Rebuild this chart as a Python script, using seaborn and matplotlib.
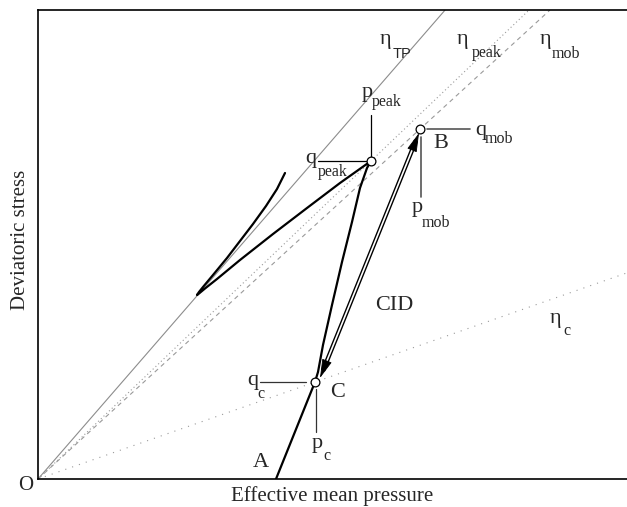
import matplotlib
matplotlib.use("Agg")
import matplotlib.pyplot as plt
import seaborn as sns

sns.set_style("white")
plt.rcParams["font.family"] = ["Liberation Serif", "DejaVu Serif"]

# Frame extent in (p, q) units
P_MAX, Q_MAX = 589, 469

# Stress-ratio lines through the origin (slope q/p)
ratio_names = ["TP", "peak", "mob", "c"]
ratio_slopes = [1.152, 0.955, 0.916, 0.350]
ratio_styles = ["-", (0, (1, 2.4)), (0, (4, 3.5)), (0, (1, 5.5))]
ratio_colors = ["#8c8c8c", "#9a9a9a", "#9a9a9a", "#9a9a9a"]

# Characteristic states (p, q)
peak_state = (333, 318)
mob_state = (382, 350)
c_state = (277, 97)

# Stress path: A -> C -> peak, down to the loop tip and back up
path_p = [238, 277, 280, 285, 294, 304, 314, 322, 329, 333,
          302, 269, 235, 202, 179, 167, 161, 159,
          161, 165, 175, 189, 202, 215, 228, 239, 247]
path_q = [0, 97, 107, 134, 174, 217, 257, 291, 311, 318,
          296, 271, 245, 219, 200, 190.5, 185.5, 184,
          187, 192, 204, 221, 238, 255, 273, 290, 306]

# Cyclic path between C and B
cid_p = [282, 381]
cid_q = [101, 346]

fig = plt.figure(figsize=(6.27, 5.07), dpi=100)
ax = fig.add_axes([38 / 627, 28 / 507, 589 / 627, 469 / 507])
ax.set_xlim(0, P_MAX)
ax.set_ylim(0, Q_MAX)

# Stress-ratio lines
for name, s, ls, col in zip(ratio_names, ratio_slopes, ratio_styles, ratio_colors):
    p_end = min(P_MAX, Q_MAX / s)
    ax.plot([0, p_end], [0, s * p_end], color=col, lw=0.8, linestyle=ls, zorder=1)

# Stress path
sns.lineplot(x=path_p, y=path_q, sort=False, estimator=None, ax=ax,
             color="black", lw=1.6, zorder=3, solid_joinstyle="round",
             solid_capstyle="round")

# Cyclic path drawn as a double line with arrowheads at both ends
dp, dq = cid_p[1] - cid_p[0], cid_q[1] - cid_q[0]
L = (dp ** 2 + dq ** 2) ** 0.5
up, uq = dp / L, dq / L


def along(t):
    return cid_p[0] + up * t, cid_q[0] + uq * t


a0, a1 = along(8), along(L - 8)
ax.plot([a0[0], a1[0]], [a0[1], a1[1]], color="black", lw=3.2,
        solid_capstyle="butt", zorder=3)
w0, w1 = along(15), along(L - 15)
ax.plot([w0[0], w1[0]], [w0[1], w1[1]], color="white", lw=1.2,
        solid_capstyle="butt", zorder=4)
for tip, base in [((cid_p[1], cid_q[1]), along(L - 14)),
                  ((cid_p[0], cid_q[0]), along(14))]:
    ax.annotate("", xy=tip, xytext=base,
                arrowprops=dict(arrowstyle="-|>,head_length=1.2,head_width=0.32",
                                color="black", lw=0.6, shrinkA=0, shrinkB=0,
                                mutation_scale=10),
                zorder=5)

# Leader lines for the state labels
pk, mb, cs = peak_state, mob_state, c_state
ax.plot([pk[0], pk[0]], [pk[1] + 4, pk[1] + 46], color="black", lw=0.9, zorder=2)
ax.plot([pk[0] - 53, pk[0] - 5], [pk[1], pk[1]], color="black", lw=0.9, zorder=2)
ax.plot([mb[0] + 7, mb[0] + 50], [mb[1], mb[1]], color="#555555", lw=1.2, zorder=2)
ax.plot([mb[0] + 1, mb[0] + 1], [mb[1] - 8, mb[1] - 68], color="#555555", lw=1.2, zorder=2)
ax.plot([cs[0] - 55, cs[0] - 9], [cs[1], cs[1]], color="#333333", lw=0.9, zorder=2)
ax.plot([cs[0] + 1, cs[0] + 1], [cs[1] - 7, cs[1] - 50], color="#333333", lw=0.9, zorder=2)

# State markers
sns.scatterplot(x=[pk[0], mb[0], cs[0]], y=[pk[1], mb[1], cs[1]], ax=ax,
                s=40, facecolor="white", edgecolor="black", linewidth=0.9,
                zorder=6)

# Labels: (p, q, text, size, family)
MAIN, SUB = 16, 11.5
labels = [
    (342, 435, "η", MAIN, "Liberation Serif"),
    (355, 421, "TP", 10.5, "Liberation Sans"),
    (419, 435, "η", MAIN, "Liberation Serif"),
    (434, 422, "peak", SUB, "Liberation Serif"),
    (502, 435, "η", MAIN, "Liberation Serif"),
    (514, 421, "mob", SUB, "Liberation Serif"),
    (324, 382, "p", MAIN, "Liberation Serif"),
    (334, 373, "peak", SUB, "Liberation Serif"),
    (267, 316, "q", MAIN, "Liberation Serif"),
    (280, 303, "peak", SUB, "Liberation Serif"),
    (437, 344, "q", MAIN, "Liberation Serif"),
    (447, 336, "mob", SUB, "Liberation Serif"),
    (395, 331, "B", MAIN, "Liberation Serif"),
    (374, 267, "p", MAIN, "Liberation Serif"),
    (384, 252, "mob", SUB, "Liberation Serif"),
    (337, 169, "CID", MAIN, "Liberation Serif"),
    (512, 156, "η", MAIN, "Liberation Serif"),
    (525, 144, "c", SUB, "Liberation Serif"),
    (209, 94, "q", MAIN, "Liberation Serif"),
    (219, 81, "c", SUB, "Liberation Serif"),
    (292, 82, "C", MAIN, "Liberation Serif"),
    (274, 31, "p", MAIN, "Liberation Serif"),
    (285, 19, "c", SUB, "Liberation Serif"),
    (215, 12, "A", MAIN, "Liberation Serif"),
    (-20, -11, "O", 15, "Liberation Serif"),
]
for x, y, t, size, fam in labels:
    ax.text(x, y, t, fontsize=size, family=fam, ha="left", va="baseline",
            zorder=7, clip_on=False)

ax.set_xticks([])
ax.set_yticks([])
ax.set_xlabel("Effective mean pressure", fontsize=15)
ax.set_ylabel("Deviatoric stress", fontsize=15)
ax.xaxis.set_label_coords(0.5, -0.015)
ax.yaxis.set_label_coords(-0.013, 0.51)

for side in ["left", "top", "bottom"]:
    ax.spines[side].set_visible(True)
    ax.spines[side].set_color("black")
    ax.spines[side].set_linewidth(1.2)
ax.spines["right"].set_visible(False)

fig.savefig("out.png", dpi=100)
